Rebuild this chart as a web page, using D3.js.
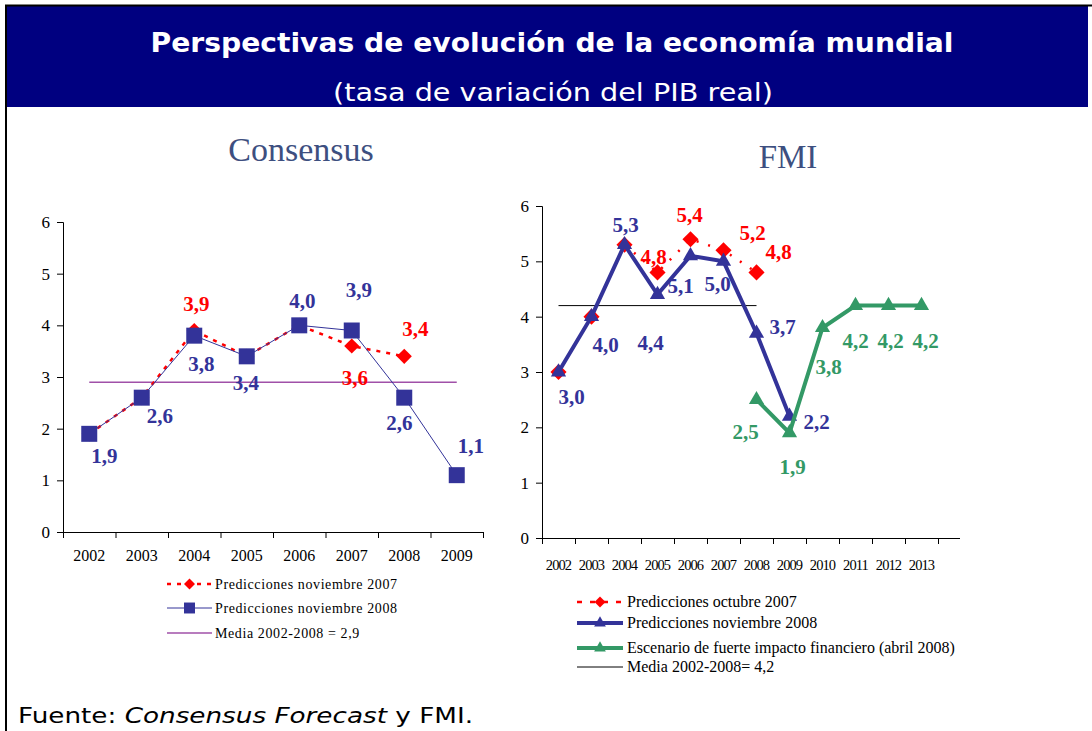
<!DOCTYPE html>
<html>
<head>
<meta charset="utf-8">
<script src="https://cdn.jsdelivr.net/npm/d3@7"></script>
<style>
  body { margin: 0; background: #fff; }
  svg { display: block; }
</style>
</head>
<body>
<div id="chart"></div>
<script>
// Consensus (left)
const consYears = ["2002", "2003", "2004", "2005", "2006", "2007", "2008", "2009"];
const consNov2007 = [1.9, 2.6, 3.9, 3.4, 4.0, 3.6, 3.4];
const consNov2008 = [1.9, 2.6, 3.8, 3.4, 4.0, 3.9, 2.6, 1.1];
const consMean = 2.9;

// FMI (right)
const fmiYears = ["2002", "2003", "2004", "2005", "2006", "2007", "2008", "2009", "2010", "2011", "2012", "2013"];
const fmiOct2007 = [3.0, 4.0, 5.3, 4.8, 5.4, 5.2, 4.8];
const fmiNov2008 = [3.0, 4.0, 5.3, 4.4, 5.1, 5.0, 3.7, 2.2];
const fmiShockYears = ["2008", "2009", "2010", "2011", "2012", "2013"];
const fmiShock = [2.5, 1.9, 3.8, 4.2, 4.2, 4.2];
const fmiMean = 4.2;

const yTicks = [0, 1, 2, 3, 4, 5, 6];

const BLUE = "#333399", RED = "#ff0000", GREEN = "#339966";
const serif = "'Liberation Serif', 'Times New Roman', serif";

const svg = d3.select("#chart").append("svg")
  .attr("width", 1092).attr("height", 731);

// frame + banner
svg.append("rect").attr("x", 6).attr("y", 6).attr("width", 1082).attr("height", 101).attr("fill", "#000080");
svg.append("line").attr("x1", 5).attr("x2", 1092).attr("y1", 5.5).attr("y2", 5.5).attr("stroke", "#000").attr("stroke-width", 2);
svg.append("line").attr("x1", 6).attr("x2", 6).attr("y1", 5).attr("y2", 731).attr("stroke", "#000").attr("stroke-width", 2);

svg.append("text").attr("x", 552).attr("y", 52).attr("text-anchor", "middle")
  .attr("textLength", 803).attr("lengthAdjust", "spacingAndGlyphs")
  .attr("fill", "#fff").style("font", "bold 26px 'DejaVu Sans', Verdana, sans-serif")
  .text("Perspectivas de evolución de la economía mundial");
svg.append("text").attr("x", 553).attr("y", 101).attr("text-anchor", "middle")
  .attr("textLength", 440).attr("lengthAdjust", "spacingAndGlyphs")
  .attr("fill", "#fff").style("font", "25px 'DejaVu Sans', Verdana, sans-serif")
  .text("(tasa de variación del PIB real)");

svg.append("text").attr("x", 18).attr("y", 723)
  .attr("textLength", 455).attr("lengthAdjust", "spacingAndGlyphs")
  .style("font", "22px 'DejaVu Sans', Verdana, sans-serif").attr("fill", "#000")
  .call(t => {
    t.append("tspan").text("Fuente:  ");
    t.append("tspan").style("font-style", "italic").text("Consensus Forecast");
    t.append("tspan").text(" y FMI.");
  });

function drawPanel(cfg) {
  const g = svg.append("g");
  const x = d3.scaleBand().domain(cfg.years).range([cfg.x0, cfg.x1]);
  const y = d3.scaleLinear().domain([0, 6]).range([cfg.yBottom, cfg.yTop]);
  const cx = d => x(d) + x.bandwidth() / 2;

  g.append("text").attr("x", cfg.titleX).attr("y", cfg.titleY).attr("text-anchor", "middle")
    .attr("fill", "#3d4f80").style("font-family", serif).style("font-size", cfg.titleSize).text(cfg.title);

  // y axis
  const ya = g.append("g").attr("transform", `translate(${cfg.x0},0)`)
    .call(d3.axisLeft(y).tickValues(yTicks).tickFormat(d3.format("d")).tickSize(6).tickPadding(7));
  ya.selectAll("text").style("font-family", serif).style("font-size", "17px").attr("fill", "#000");
  ya.selectAll("line,path").attr("stroke", "#000");

  // x axis: labels at centers, ticks at band edges
  const xa = g.append("g").attr("transform", `translate(0,${cfg.yBottom})`)
    .call(d3.axisBottom(x).tickSize(0).tickPadding(cfg.labelPad));
  xa.select(".domain").remove();
  xa.selectAll("text").style("font-family", serif).style("font-size", cfg.xFont)
    .style("letter-spacing", cfg.xSpacing).attr("fill", "#000");
  g.append("line").attr("x1", cfg.x0).attr("x2", cfg.axisEnd)
    .attr("y1", cfg.yBottom + 0.5).attr("y2", cfg.yBottom + 0.5).attr("stroke", "#000");
  const edges = cfg.years.map(d => x(d)).concat([x(cfg.years[cfg.years.length - 1]) + x.bandwidth()]);
  g.selectAll(".edge").data(edges).join("line")
    .attr("x1", d => d + 0.5).attr("x2", d => d + 0.5)
    .attr("y1", cfg.yBottom).attr("y2", cfg.yBottom + 6).attr("stroke", "#000");

  return { g, x, y, cx };
}

// diamond = square turned 45 degrees
function marker(type, size) {
  const isDiamond = type === "diamond";
  return {
    d: d3.symbol().type(isDiamond ? d3.symbolSquare : type).size(size)(),
    rot: isDiamond ? " rotate(45)" : ""
  };
}

function series(p, years, values, opts) {
  const pts = values.map((v, i) => ({ k: years[i], v }));
  const line = d3.line().x(d => p.cx(d.k)).y(d => p.y(d.v));
  p.g.append("path").datum(pts).attr("d", line).attr("fill", "none")
    .attr("stroke", opts.color).attr("stroke-width", opts.width)
    .attr("stroke-dasharray", opts.dash || null);
  const m = marker(opts.symbol, opts.size);
  p.g.selectAll(null).data(pts).join("path")
    .attr("transform", d => `translate(${p.cx(d.k)},${p.y(d.v)})${m.rot}`)
    .attr("d", m.d).attr("fill", opts.color);
}

function labels(p, years, values, offs, color) {
  p.g.selectAll(null).data(values.map((v, i) => ({ k: years[i], v, o: offs[i] })).filter(d => d.o))
    .join("text")
    .attr("x", d => p.cx(d.k) + d.o[0]).attr("y", d => p.y(d.v) + d.o[1])
    .attr("text-anchor", "middle").attr("fill", color)
    .style("font-family", serif).style("font-weight", "bold").style("font-size", "21px")
    .text(d => d3.format(".1f")(d.v).replace(".", ","));
}

function legend(p, items, x0, x1, textX, font, spacing) {
  const lg = p.g.append("g").style("font-family", serif).style("font-size", font);
  items.forEach(d => {
    lg.append("line").attr("x1", x0).attr("x2", x1).attr("y1", d.y).attr("y2", d.y)
      .attr("stroke", d.c).attr("stroke-width", d.w).attr("stroke-dasharray", d.dash || null);
    if (d.s) {
      const m = marker(d.s, d.sz);
      lg.append("path").attr("transform", `translate(${(x0 + x1) / 2},${d.y})${m.rot}`).attr("d", m.d).attr("fill", d.c);
    }
    lg.append("text").attr("x", textX).attr("y", d.y + 5).attr("fill", "#000")
      .style("letter-spacing", spacing).text(d.t);
  });
}

// ---------- left panel ----------
const L = drawPanel({
  years: consYears, x0: 63, x1: 483, axisEnd: 483, yTop: 222, yBottom: 532,
  title: "Consensus", titleSize: "34px", titleX: 301, titleY: 161, labelPad: 18, xFont: "16px", xSpacing: "0px"
});
L.g.append("line").attr("x1", L.cx("2002")).attr("x2", L.cx("2009"))
  .attr("y1", L.y(consMean)).attr("y2", L.y(consMean)).attr("stroke", "#a050a8").attr("stroke-width", 1.5);
series(L, consYears, consNov2007, { color: RED, width: 2.5, dash: "4,6", symbol: "diamond", size: 115 });
series(L, consYears, consNov2008, { color: BLUE, width: 1, symbol: d3.symbolSquare, size: 256 });
labels(L, consYears, consNov2008,
  [[15, 29], [18, 25], [7, 35], [-1, 34], [3, -17], [7, -34], [-5, 32], [14, -22]], BLUE);
labels(L, consYears, consNov2007,
  [null, null, [2, -20], null, null, [3, 39], [11, -20]], RED);

legend(L, [
  { t: "Predicciones noviembre 2007", y: 584, c: RED, w: 2.5, dash: "4,6", s: "diamond", sz: 60 },
  { t: "Predicciones noviembre 2008", y: 608, c: BLUE, w: 1, s: d3.symbolSquare, sz: 120 },
  { t: "Media 2002-2008 = 2,9", y: 633, c: "#a050a8", w: 1.5 }
], 167, 212, 215, "14px", "0.6px");

// ---------- right panel ----------
const R = drawPanel({
  years: fmiYears, x0: 542, x1: 938, axisEnd: 960, yTop: 206, yBottom: 538,
  title: "FMI", titleSize: "33px", titleX: 788, titleY: 168, labelPad: 22, xFont: "14.5px", xSpacing: "-0.9px"
});
R.g.append("line").attr("x1", R.cx("2002")).attr("x2", R.cx("2008"))
  .attr("y1", R.y(fmiMean)).attr("y2", R.y(fmiMean)).attr("stroke", "#000").attr("stroke-width", 1);
series(R, fmiYears, fmiOct2007, { color: RED, width: 2.5, dash: "2,10", symbol: "diamond", size: 130 });
series(R, fmiYears, fmiNov2008, { color: BLUE, width: 4, symbol: d3.symbolTriangle, size: 100 });
series(R, fmiShockYears, fmiShock, { color: GREEN, width: 4, symbol: d3.symbolTriangle, size: 100 });
labels(R, fmiYears, fmiNov2008,
  [[13, 32], [14, 35], [1, -13], [-7, 55], [-10, 37], [-6, 30], [26, 1], [27, 13]], BLUE);
labels(R, fmiYears, fmiOct2007,
  [null, null, null, [-4, -8], [-1, -17], [29, -10], [22, -13]], RED);
labels(R, fmiShockYears, fmiShock,
  [[-11, 39], [3, 41], [6, 46], [0, 42], [2, 42], [4, 42]], GREEN);

legend(R, [
  { t: "Predicciones octubre 2007", y: 602, c: RED, w: 2.5, dash: "5,8", s: "diamond", sz: 60 },
  { t: "Predicciones noviembre 2008", y: 623, c: BLUE, w: 4, s: d3.symbolTriangle, sz: 60 },
  { t: "Escenario de fuerte impacto financiero (abril 2008)", y: 648, c: GREEN, w: 4, s: d3.symbolTriangle, sz: 60 },
  { t: "Media 2002-2008= 4,2", y: 667, c: "#000", w: 1 }
], 577, 623, 627, "16px", "0px");
</script>
</body>
</html>
